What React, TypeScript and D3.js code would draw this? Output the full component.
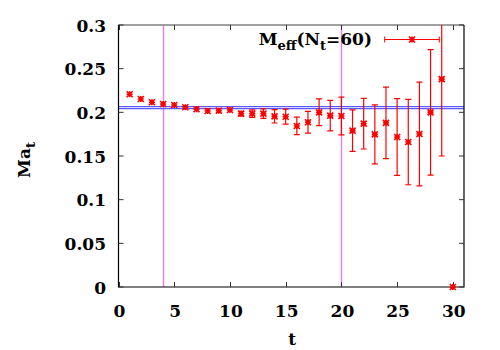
import * as d3 from "d3";
import React, { useEffect, useRef } from "react";

// time slices
const tValues = [1, 2, 3, 4, 5, 6, 7, 8, 9, 10, 11, 12, 13, 14, 15, 16, 17, 18, 19, 20, 21, 22, 23, 24, 25, 26, 27, 28, 29, 30];
// effective mass per slice
const massValues = [
  0.2207, 0.2153, 0.2115, 0.2095, 0.2084, 0.2058, 0.2035, 0.2015, 0.2019, 0.2027,
  0.1985, 0.1985, 0.1985, 0.1954, 0.195, 0.1844, 0.1886, 0.2, 0.1962, 0.1958,
  0.179, 0.187, 0.1748, 0.188, 0.1718, 0.166, 0.1752, 0.2, 0.238, 0,
];
const errValues = [
  0.0006, 0.0007, 0.0008, 0.0009, 0.001, 0.0011, 0.0013, 0.0014, 0.0016, 0.0019,
  0.0025, 0.0044, 0.0055, 0.0076, 0.0086, 0.01, 0.0124, 0.0153, 0.0174, 0.0216,
  0.0238, 0.029, 0.0338, 0.0409, 0.0439, 0.0489, 0.0595, 0.0718, 0.088, 0,
];
// fit band and fit window
const bandValues = [0.2042, 0.2065];
const windowValues = [4, 20];
const xTicks = [0, 5, 10, 15, 20, 25, 30];
const yTicks = [0, 0.05, 0.1, 0.15, 0.2, 0.25, 0.3];
const yTickLabels = ["0", "0.05", "0.1", "0.15", "0.2", "0.25", "0.3"];

const App = () => {
  const svgRef = useRef<SVGSVGElement>(null);

  useEffect(() => {
    const width = 500;
    const height = 350;
    const left = 118.5;
    const right = 464;
    const top = 25;
    const bottom = 287;
    const font = "'DejaVu Serif', serif";
    const red = "#ff0000";

    const svg = d3.select(svgRef.current).attr("width", width).attr("height", height);
    svg.selectAll("*").remove();

    const x = d3.scaleLinear().domain([0, 31]).range([left, right]);
    const y = d3.scaleLinear().domain([0, 0.3]).range([bottom, top]);
    const px = (v: number) => Math.round(x(v)) + 0.5;

    svg.append("defs").append("clipPath").attr("id", "plot")
      .append("rect").attr("x", left).attr("y", top)
      .attr("width", right - left).attr("height", bottom - top + 6);

    // fit window
    svg.append("g").selectAll("line").data(windowValues).join("line")
      .attr("x1", (d) => px(d)).attr("x2", (d) => px(d))
      .attr("y1", top).attr("y2", bottom)
      .attr("stroke", "#e97ee9").attr("stroke-width", 1.4);

    // fit band
    svg.append("g").selectAll("line").data(bandValues).join("line")
      .attr("x1", left).attr("x2", right)
      .attr("y1", (d) => y(d)).attr("y2", (d) => y(d))
      .attr("stroke", "#5a5aff").attr("stroke-width", 1.1);

    // frame
    svg.append("line").attr("x1", left).attr("x2", right).attr("y1", top).attr("y2", top)
      .attr("stroke", "#808080").attr("stroke-width", 1.5);
    svg.append("path")
      .attr("d", `M${left},${top}V${bottom}H${right}V${top}`)
      .attr("fill", "none").attr("stroke", "#000").attr("stroke-width", 1.2);

    // ticks (inward)
    const tl = 5;
    const ticks = svg.append("g").attr("stroke", "#333").attr("stroke-width", 1);
    xTicks.forEach((t) => {
      ticks.append("line").attr("x1", px(t)).attr("x2", px(t)).attr("y1", bottom).attr("y2", bottom - tl);
      ticks.append("line").attr("x1", px(t)).attr("x2", px(t)).attr("y1", top).attr("y2", top + tl);
    });
    yTicks.forEach((v) => {
      ticks.append("line").attr("x1", left).attr("x2", left + tl).attr("y1", y(v)).attr("y2", y(v));
      ticks.append("line").attr("x1", right).attr("x2", right - tl).attr("y1", y(v)).attr("y2", y(v));
    });

    // tick labels
    const labels = svg.append("g").style("font-family", font).style("font-weight", "bold")
      .style("font-size", "17px").attr("fill", "#000");
    labels.selectAll("text.x").data(xTicks).join("text").attr("class", "x")
      .attr("x", (d) => x(d) + 1).attr("y", 316.5).attr("text-anchor", "middle")
      .text((d) => String(d));
    labels.selectAll("text.y").data(yTicks).join("text").attr("class", "y")
      .attr("x", 106).attr("y", (d) => y(d) + 6.5).attr("text-anchor", "end")
      .text((d, i) => yTickLabels[i]);

    // axis titles
    labels.append("text").attr("x", (left + right) / 2 + 1).attr("y", 345)
      .attr("text-anchor", "middle").text("t");
    const yl = labels.append("text")
      .attr("transform", `translate(30,${(top + bottom) / 2 + 4}) rotate(-90)`)
      .attr("text-anchor", "middle");
    yl.append("tspan").text("Ma");
    yl.append("tspan").style("font-size", "13px").attr("dy", 5).text("t");

    // legend
    const lg = labels.append("text").attr("x", 372).attr("y", 45).attr("text-anchor", "end");
    lg.append("tspan").text("M");
    lg.append("tspan").style("font-size", "13px").attr("dy", 5).text("eff");
    lg.append("tspan").attr("dy", -5).text("(N");
    lg.append("tspan").style("font-size", "13px").attr("dy", 5).text("t");
    lg.append("tspan").attr("dy", -5).text("=60)");

    const star = (g: d3.Selection<SVGGElement, unknown, null, undefined>, cx: number, cy: number) => {
      const s = 3;
      g.append("path")
        .attr("d", `M${cx - s},${cy}H${cx + s}M${cx},${cy - s}V${cy + s}M${cx - s},${cy - s}L${cx + s},${cy + s}M${cx - s},${cy + s}L${cx + s},${cy - s}`)
        .attr("stroke", red).attr("stroke-width", 1.6).attr("fill", "none");
    };

    const legend = svg.append("g").attr("stroke", red).attr("stroke-width", 1);
    legend.append("path").attr("d", `M384.7,39.5H439.3M384.7,36.5V42.5M439.3,36.5V42.5`);
    star(legend, 412, 39.5);

    // data
    const plot = svg.append("g").attr("clip-path", "url(#plot)");
    const cap = 3;
    tValues.forEach((t, i) => {
      const cx = x(t);
      const lo = y(massValues[i] - errValues[i]);
      const hi = y(massValues[i] + errValues[i]);
      if (errValues[i] > 0.002) {
        plot.append("path")
          .attr("d", `M${cx},${lo}V${hi}M${cx - cap},${lo}H${cx + cap}M${cx - cap},${hi}H${cx + cap}`)
          .attr("stroke", red).attr("stroke-width", 1.2).attr("fill", "none");
      }
      star(plot, cx, y(massValues[i]));
    });
  }, []);

  return (
    <svg ref={svgRef} style={{ position: "absolute", left: 0, top: 0, background: "#fff" }}></svg>
  );
};

export default App;
